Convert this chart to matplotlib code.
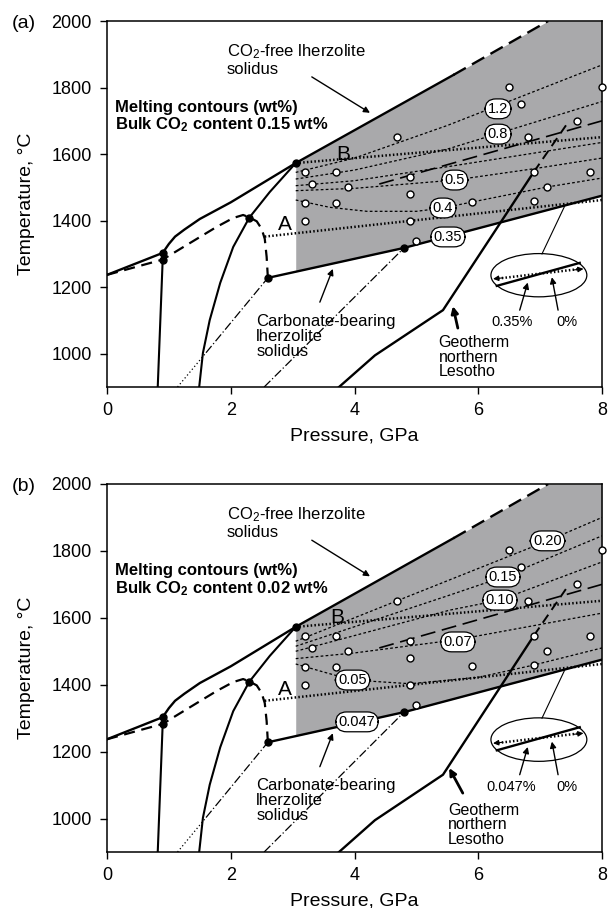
import numpy as np
import matplotlib
matplotlib.use('Agg')
import matplotlib.pyplot as plt
from matplotlib.patches import Ellipse

plt.rcParams['font.family'] = ['Liberation Sans', 'DejaVu Sans']
plt.rcParams['mathtext.fontset'] = 'custom'
plt.rcParams['mathtext.rm'] = 'Liberation Sans'
plt.rcParams['mathtext.it'] = 'Liberation Sans:italic'
plt.rcParams['mathtext.bf'] = 'Liberation Sans:bold'

# ---------------- data (P in GPa, T in deg C) ----------------
free_sol_P = [0.0, 0.9, 1.0, 1.1, 1.25, 1.5, 2.0, 3.05, 5.6]
free_sol_T = [1237, 1303, 1330, 1352, 1373, 1405, 1455, 1573, 1838]
free_dash_P = [5.6, 7.13]
free_dash_T = [1838, 2000]

carb_dash_P = [0.0, 0.9, 1.29, 1.77, 2.04, 2.2, 2.3, 2.42, 2.5, 2.55, 2.58, 2.6]
carb_dash_T = [1237, 1283, 1327, 1381, 1408, 1417, 1410, 1398, 1375, 1345, 1291, 1228]

vert_P = [0.9, 0.82]
vert_T = [1283, 900]

curve_P = [1.49, 1.55, 1.66, 1.83, 2.04, 2.3, 2.63, 3.05]
curve_T = [900, 1002, 1101, 1213, 1321, 1409, 1486, 1573]

carb_sol_P = [2.6, 4.8, 8.0]
carb_sol_T = [1228, 1318, 1475]

dd1_dot_P = [1.14, 1.6]
dd1_dot_T = [900, 1003]
dd1_P = [1.6, 2.6]
dd1_T = [1003, 1228]
dd2_P = [2.54, 4.8]
dd2_T = [900, 1318]

lineA_P = [2.55, 8.0]
lineA_T = [1352, 1462]
lineB_P = [3.05, 8.0]
lineB_T = [1573, 1651]
longdash_P = [4.4, 8.0]
longdash_T = [1510, 1700]

geo_P = [3.75, 4.33, 5.43, 6.9]
geo_T = [900, 995, 1131, 1547]
geo_dash_P = [6.9, 7.45]
geo_dash_T = [1547, 1695]

dots_P = [0.9, 0.9, 2.3, 2.6, 3.05, 4.8]
dots_T = [1303, 1283, 1409, 1228, 1573, 1318]

exp_P = [3.2, 3.7, 3.31, 3.89, 3.2, 3.7, 3.2, 4.69, 4.9, 4.9, 4.9, 4.99,
         5.9, 6.49, 6.69, 6.8, 6.9, 6.9, 7.11, 7.59, 7.8, 8.0]
exp_T = [1546, 1546, 1510, 1501, 1453, 1453, 1399, 1651, 1531, 1480, 1399, 1339,
         1456, 1802, 1751, 1651, 1546, 1459, 1501, 1700, 1546, 1802]

# melting contours, panel (a)
a_c12_P = [3.05, 4.0, 5.5, 8.0];  a_c12_T = [1545, 1588, 1686, 1868]
a_c08_P = [3.05, 4.0, 5.5, 8.0];  a_c08_T = [1525, 1552, 1615, 1758]
a_c06_P = [3.05, 4.0, 5.5, 8.0];  a_c06_T = [1505, 1520, 1562, 1635]
a_c05_P = [3.05, 4.0, 5.62, 6.9, 8.0]; a_c05_T = [1490, 1497, 1522, 1556, 1588]
a_c04_P = [3.05, 3.6, 4.2, 5.0, 5.43, 5.9, 7.11, 8.0]
a_c04_T = [1462, 1440, 1428, 1428, 1438, 1456, 1501, 1528]
a_labels = ['1.2', '0.8', '0.5', '0.4', '0.35']
a_lab_P = [6.32, 6.32, 5.62, 5.43, 5.51]
a_lab_T = [1736, 1660, 1522, 1438, 1351]

# melting contours, panel (b)
b_c20_P = [3.05, 4.69, 7.12, 8.0]; b_c20_T = [1530, 1651, 1830, 1900]
b_c15_P = [3.05, 5.54, 6.4, 8.0];  b_c15_T = [1515, 1668, 1722, 1845]
b_c10_P = [3.05, 5.54, 6.35, 8.0]; b_c10_T = [1500, 1623, 1653, 1767]
b_c07_P = [3.05, 4.0, 5.67, 8.0];  b_c07_T = [1478, 1495, 1535, 1614]
b_c05_P = [3.05, 3.5, 3.97, 4.9, 6.0, 6.9, 8.0]
b_c05_T = [1462, 1438, 1414, 1403, 1422, 1459, 1510]
b_labels = ['0.20', '0.15', '0.10', '0.07', '0.05', '0.047']
b_lab_P = [7.12, 6.40, 6.35, 5.67, 3.97, 4.04]
b_lab_T = [1830, 1722, 1653, 1528, 1414, 1289]

x_ticks = [0, 2, 4, 6, 8]
y_ticks = [1000, 1200, 1400, 1600, 1800, 2000]

GRAY = '#a9a9ab'
TXT = 12


def arrow(ax, tail, head, lw=1.0, ms=9):
    ax.annotate('', xy=head, xytext=tail,
                arrowprops=dict(arrowstyle='-|>', color='k', lw=lw,
                                mutation_scale=ms, shrinkA=0, shrinkB=0),
                zorder=8)


def draw_panel(ax, contours, labels, lab_P, lab_T, bulk, inset_lab, geo_txt, geo_arr, B_P):
    ax.set_xlim(0, 8)
    ax.set_ylim(900, 2000)

    # shaded field
    Pf = np.linspace(3.05, 8.0, 300)
    lower = np.interp(Pf, carb_sol_P, carb_sol_T)
    upper = np.interp(Pf, free_sol_P + free_dash_P[1:], free_sol_T + free_dash_T[1:])
    upper = np.minimum(upper, 2000)
    ax.fill_between(Pf, lower, upper, color=GRAY, lw=0, zorder=1)

    # melting contours
    for (cp, ct) in contours:
        ax.plot(cp, ct, color='k', lw=0.9, ls=(0, (2.2, 1.8)), zorder=3)

    # main curves
    ax.plot(free_sol_P, free_sol_T, color='k', lw=1.7, zorder=4)
    ax.plot(free_dash_P, free_dash_T, color='k', lw=1.7, ls=(0, (6, 3)), zorder=4)
    ax.plot(carb_dash_P, carb_dash_T, color='k', lw=1.6, ls=(0, (5, 3)), zorder=4)
    ax.plot(vert_P, vert_T, color='k', lw=1.5, zorder=4)
    ax.plot(curve_P, curve_T, color='k', lw=1.5, zorder=4)
    ax.plot(carb_sol_P, carb_sol_T, color='k', lw=1.7, zorder=4)
    ax.plot(dd1_dot_P, dd1_dot_T, color='k', lw=0.9, ls=(0, (1, 2)), zorder=4)
    ax.plot(dd1_P, dd1_T, color='k', lw=0.9, ls=(0, (7, 2, 1, 2)), zorder=4)
    ax.plot(dd2_P, dd2_T, color='k', lw=0.9, ls=(0, (7, 2, 1, 2)), zorder=4)
    ax.plot(lineA_P, lineA_T, color='k', lw=1.8, ls=(0, (0.6, 0.9)), zorder=4)
    ax.plot(lineB_P, lineB_T, color='k', lw=1.8, ls=(0, (0.6, 0.9)), zorder=4)
    ax.plot(longdash_P, longdash_T, color='k', lw=1.2, ls=(0, (9, 4)), zorder=4)
    ax.plot(geo_P, geo_T, color='k', lw=1.7, zorder=4)
    ax.plot(geo_dash_P, geo_dash_T, color='k', lw=1.4, ls=(0, (5, 3)), zorder=4)

    ax.plot(exp_P, exp_T, 'o', ms=5, mfc='white', mec='k', mew=1.0, zorder=6, clip_on=False)
    ax.plot(dots_P, dots_T, 'o', ms=5, color='k', zorder=6)

    for lab, p, t in zip(labels, lab_P, lab_T):
        ax.text(p, t, lab, fontsize=10.5, ha='center', va='center', zorder=7,
                bbox=dict(boxstyle='round,pad=0.2,rounding_size=0.75', fc='white', ec='k', lw=0.9))

    ax.text(2.88, 1387, 'A', fontsize=15, ha='center', va='center', zorder=7)
    ax.text(B_P, 1600, 'B', fontsize=15, ha='center', va='center', zorder=7)

    # texts
    ax.text(1.94, 1885, 'CO$_2$-free lherzolite\nsolidus', fontsize=TXT, ha='left',
            va='center', linespacing=1.1, zorder=7)
    arrow(ax, (3.31, 1832), (4.25, 1724))
    ax.text(0.13, 1712, 'Melting contours (wt%)\nBulk CO$_\\mathbf{2}$ content ' + bulk,
            fontsize=TXT, fontweight='bold', ha='left', va='center', linespacing=1.05, zorder=7)
    ax.text(2.41, 1053, 'Carbonate-bearing\nlherzolite\nsolidus', fontsize=TXT, ha='left',
            va='center', linespacing=1.0, zorder=7)
    arrow(ax, (3.44, 1155), (3.65, 1255))
    ax.text(geo_txt[0], geo_txt[1], 'Geotherm\nnorthern\nLesotho', fontsize=11.5, ha='left',
            va='center', linespacing=0.98, zorder=7)
    arrow(ax, geo_arr[0], geo_arr[1], lw=2.0, ms=10)

    # inset
    ax.add_patch(Ellipse((6.98, 1236), 1.55, 130, fc='white', ec='k', lw=0.9, zorder=5))
    ax.plot([7.03, 7.40], [1300, 1445], color='k', lw=0.8, zorder=5)
    ax.plot([6.30, 7.64], [1204, 1273], color='k', lw=1.7, zorder=6)
    ax.plot([6.32, 7.61], [1226, 1254], color='k', lw=1.8, ls=(0, (0.6, 0.9)), zorder=6)
    arrow(ax, (6.40, 1228), (6.24, 1225), lw=0.8, ms=8)
    arrow(ax, (7.55, 1252), (7.70, 1255), lw=0.8, ms=8)
    arrow(ax, (6.67, 1131), (6.80, 1214))
    arrow(ax, (7.29, 1131), (7.19, 1230))
    ax.text(6.54, 1095, inset_lab, fontsize=10.5, ha='center', va='center', zorder=7)
    ax.text(7.43, 1095, '0%', fontsize=10.5, ha='center', va='center', zorder=7)

    # axes style
    ax.set_xticks(x_ticks)
    ax.set_yticks(y_ticks)
    ax.tick_params(direction='out', length=5, width=1.0, labelsize=13, pad=6)
    for s in ax.spines.values():
        s.set_linewidth(1.1)
    ax.set_xlabel('Pressure, GPa', fontsize=14, labelpad=6)
    ax.set_ylabel('Temperature, °C', fontsize=14)
    ax.yaxis.set_label_coords(-0.145, 0.5)


fig = plt.figure(figsize=(6.09, 9.08), dpi=100)
ax1 = fig.add_axes([107 / 609, 1 - 387 / 908, 495 / 609, 366 / 908])
ax2 = fig.add_axes([107 / 609, 1 - 852 / 908, 495 / 609, 368 / 908])

draw_panel(ax1,
           [(a_c12_P, a_c12_T), (a_c08_P, a_c08_T), (a_c06_P, a_c06_T),
            (a_c05_P, a_c05_T), (a_c04_P, a_c04_T)],
           a_labels, a_lab_P, a_lab_T, '0.15 wt%', '0.35%',
           (5.36, 990), ((5.67, 1077), (5.59, 1143)), 3.82)
draw_panel(ax2,
           [(b_c20_P, b_c20_T), (b_c15_P, b_c15_T), (b_c10_P, b_c10_T),
            (b_c07_P, b_c07_T), (b_c05_P, b_c05_T)],
           b_labels, b_lab_P, b_lab_T, '0.02 wt%', '0.047%',
           (5.51, 981), ((5.75, 1076), (5.53, 1151)), 3.72)

fig.text(12 / 609, 1 - 23 / 908, '(a)', fontsize=14, ha='left', va='center')
fig.text(12 / 609, 1 - 486 / 908, '(b)', fontsize=14, ha='left', va='center')

fig.savefig('out.png', dpi=100)
